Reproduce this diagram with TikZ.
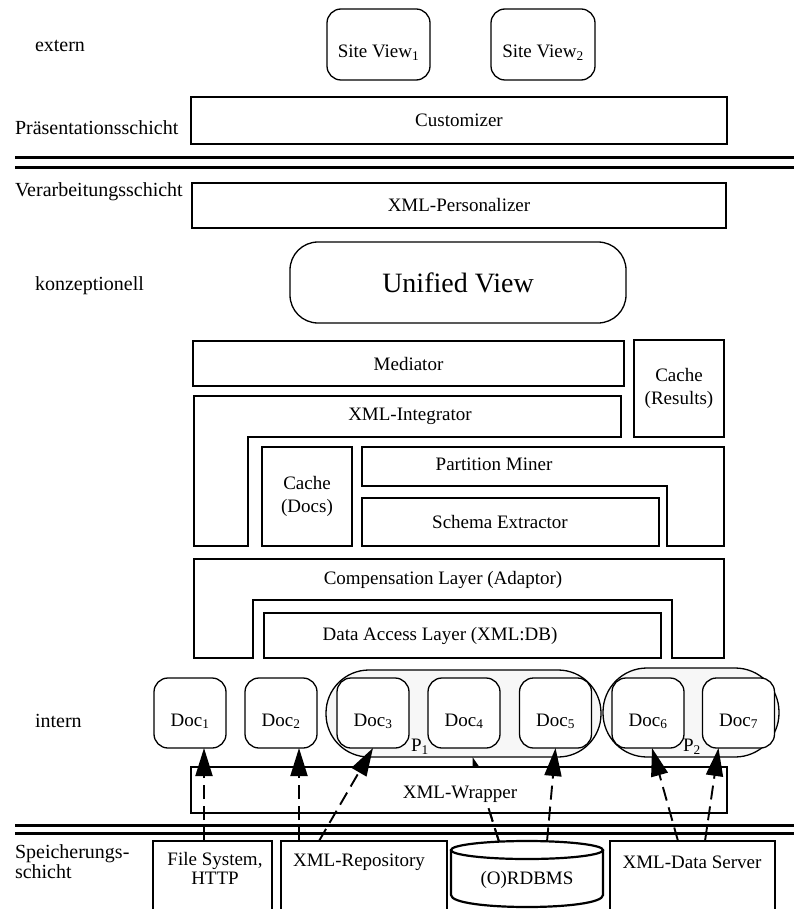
\documentclass[tikz,border=0pt]{standalone}
\usepackage{fontspec}
\setmainfont{Liberation Serif}
\usetikzlibrary{arrows.meta,calc}
\begin{document}
\begin{tikzpicture}[x=1pt,y=-1pt,
  every node/.style={font=\fontsize{19}{23}\selectfont, inner sep=0pt, outer sep=0pt},
  tier/.style={font=\fontsize{20}{20}\selectfont, anchor=base west, align=left},
  layer/.style={draw, line width=2.6pt, line join=miter},
  layerbox/.style={layer, rectangle, fill=white},
  softbox/.style={draw, line width=1.3pt, rounded corners=14pt, fill=white},
  doc/.style={softbox, minimum width=72pt, minimum height=70pt, text height=28pt, text depth=2pt},
  partition/.style={draw, line width=1.3pt, fill=gray!6},
  separator/.style={line width=3pt},
  flow/.style={line width=1.9pt, dash pattern=on 14pt off 7pt,
    -{Triangle[length=28pt,width=17pt]}},
  flowtail/.style={line width=1.9pt, dash pattern=on 14pt off 7pt}
]
\useasboundingbox (0,0) rectangle (794,909);
\fill[white] (0,0) rectangle (794,909);

% tier labels on the left
\node[tier] (lextern) at (35,52) {extern};
\node[tier] (lpraes) at (15,135) {Präsentationsschicht};
\node[tier] (lverarb) at (15,197) {Verarbeitungsschicht};
\node[tier] (lkonz) at (35,290) {konzeptionell};
\node[tier] (lintern) at (35,727) {intern};
\node[tier] (lspeich) at (15,878) {Speicherungs-\\schicht};

% external views
\node[softbox, minimum width=103pt, minimum height=71pt, text height=28pt, text depth=2pt]
  (sv1) at (378.5,44.5) {Site View\textsubscript{1}};
\node[softbox, minimum width=104pt, minimum height=71pt, text height=28pt, text depth=2pt]
  (sv2) at (543,44.5) {Site View\textsubscript{2}};

% presentation tier
\node[layerbox, minimum width=536pt, minimum height=47pt] (cust) at (459,120.5) {Customizer};

% tier separators
\draw[separator] (15,158) -- (794,158);
\draw[separator] (15,168) -- (794,168);

% processing tier
\node[layerbox, minimum width=534pt, minimum height=45pt] (pers) at (459,205.5) {XML-Personalizer};
\node[draw, line width=1.3pt, rounded corners=28pt, minimum width=336pt, minimum height=81pt,
  font=\fontsize{28}{30}\selectfont] (uview) at (458,282.5) {Unified View};

\node[layerbox, minimum width=431pt, minimum height=45pt] (med) at (408.5,363.5) {Mediator};
\node[layerbox, minimum width=90pt, minimum height=97pt, align=center] (cres) at (679,388.5) {Cache\\(Results)};

\draw[layer] (194,396) -- (621,396) -- (621,437) -- (248,437) -- (248,546) -- (194,546) -- cycle;
\node (integ) at (410,416) {XML-Integrator};

\node[layerbox, minimum width=90pt, minimum height=99pt, align=center] (cdocs) at (307,496.5) {Cache\\(Docs)};

\draw[layer] (362,447) -- (724,447) -- (724,546) -- (667,546) -- (667,486) -- (362,486) -- cycle;
\node (pminer) at (494,464) {Partition Miner};

\node[layerbox, minimum width=297pt, minimum height=48pt] (schema) at (510.5,522) {};
\node (schematxt) at (500,522) {Schema Extractor};

\draw[layer] (194,559) -- (724,559) -- (724,658) -- (672,658) -- (672,600) -- (253,600)
  -- (253,658) -- (194,658) -- cycle;
\node (comp) at (443,580) {Compensation Layer (Adaptor)};

\node[layerbox, minimum width=397pt, minimum height=45pt] (dal) at (462.5,635.5) {};
\node (daltxt) at (440,636) {Data Access Layer (XML:DB)};

% partitions and documents
\node[partition, rounded corners=43pt, minimum width=275pt, minimum height=87pt] (p1) at (463.5,713.5) {};
\node[partition, rounded corners=44pt, minimum width=176pt, minimum height=89pt] (p2) at (691,712.5) {};

\node[doc] (doc1) at (190,713) {Doc\textsubscript{1}};
\node[doc] (doc2) at (281,713) {Doc\textsubscript{2}};
\node[doc] (doc3) at (373,713) {Doc\textsubscript{3}};
\node[doc] (doc4) at (464,713) {Doc\textsubscript{4}};
\node[doc] (doc5) at (555.5,713) {Doc\textsubscript{5}};
\node[doc] (doc6) at (648,713) {Doc\textsubscript{6}};
\node[doc] (doc7) at (738.5,713) {Doc\textsubscript{7}};

\node (p1lbl) at (420,747) {P\textsubscript{1}};
\node (p2lbl) at (692,747) {P\textsubscript{2}};

% storage tier
\node[layerbox, minimum width=119pt, minimum height=79pt] (fs) at (212.5,880.5) {};
\node[align=center, font=\fontsize{19}{19}\selectfont] (fstxt) at (215,868) {File System,\\HTTP};
\node[layerbox, minimum width=166pt, minimum height=79pt] (repo) at (364,880.5) {};
\node (repotxt) at (359,862) {XML-Repository};
\node[layerbox, minimum width=165pt, minimum height=79pt] (dserv) at (692.5,880.5) {};
\node (dservtxt) at (692,862) {XML-Data Server};

\coordinate (db) at (527,850);
\draw[line width=2.2pt, fill=white] (451,850) -- (451,895) .. controls (451,911) and (603,911) .. (603,895) -- (603,850);
\draw[line width=2.2pt, fill=white] (db) ellipse [x radius=76pt, y radius=9pt];
\node (dbtxt) at (527,880) {(O)RDBMS};

\coordinate (dbl) at ($(db)+(-28,-8.4)$);
\coordinate (dbr) at ($(db)+(20,-8.6)$);

% access path into partition P1 runs beneath the wrapper
\draw[flow] (dbl) -- ([xshift=9pt]p1.south);

% wrapper layer
\node[layerbox, minimum width=536pt, minimum height=46pt] (wrap) at (459,790) {};
\node (wraptxt) at (460,794) {XML-Wrapper};
\draw[flowtail, shorten >=52pt] (dbl) -- ([xshift=9pt]p1.south);

\draw[separator] (15,825) -- (794,825);
\draw[separator] (15,833) -- (794,833);

% document access paths
\draw[flow] ([xshift=-8.5pt]fs.north) -- ([xshift=-8.5pt]fs.north |- doc1.south);
\draw[flow] ([xshift=-65pt]repo.north) -- ([xshift=-65pt]repo.north |- doc2.south);
\draw[flow] ([xshift=-45pt]repo.north) -- (doc3.south);
\draw[flow] (dbr) -- (doc5.south);
\draw[flow] ([xshift=-14.5pt]dserv.north) -- ([xshift=4pt]doc6.south);
\draw[flow] ([xshift=12.5pt]dserv.north) -- ([xshift=-20pt]doc7.south);
\end{tikzpicture}
\end{document}
